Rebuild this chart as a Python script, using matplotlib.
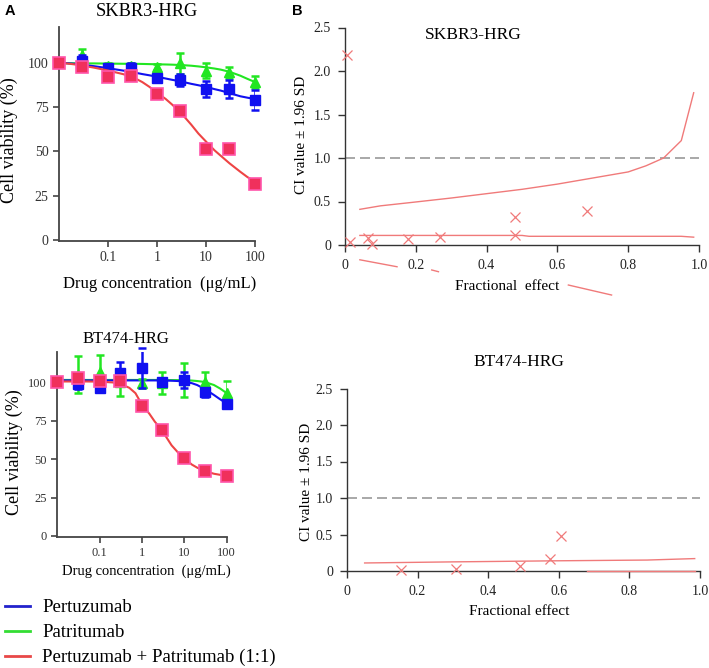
import numpy as np
import matplotlib.pyplot as plt
from matplotlib.lines import Line2D

plt.rcParams['font.family'] = ['Liberation Serif', 'DejaVu Serif']

# === Data: dose response (viability %) ===
conc = [0.01, 0.03, 0.1, 0.3, 1, 3, 10, 30, 100]

sk_per = [100, 101, 97, 97, 91.5, 90, 85, 85, 79]
sk_per_err = [0, 3, 2, 2.5, 1.5, 3.5, 4.5, 5, 5.5]
sk_pat = [100, 104, 98, 98, 97.5, 99.5, 95.5, 94.5, 89]
sk_pat_err = [0, 3.5, 1.5, 1.5, 1.5, 6, 4, 3, 3.5]
sk_combo = [100, 97.5, 92, 92.5, 82, 72.5, 51.5, 51.5, 31.5]

bt_per = [100, 99, 96.5, 106, 109.5, 100.5, 101.5, 93.5, 86]
bt_per_err = [0, 3.5, 2, 7, 13, 2.5, 5, 3, 2]
bt_pat = [100, 105, 107, 100, 99.5, 99.5, 101.5, 100.5, 93]
bt_pat_err = [0, 12, 11, 9, 3, 7, 11, 6.5, 8]
bt_combo = [100, 102.8, 100.7, 100.7, 84.4, 69.3, 50.9, 42.2, 39]

# fitted curves
fit_conc = [0.01, 0.02, 0.03, 0.05, 0.1, 0.2, 0.3, 0.5, 0.7, 1, 1.5, 2, 3,
            5, 7, 10, 15, 20, 30, 50, 70, 100]
sk_per_fit = [100, 99.3, 98.7, 98, 96.8, 95.5, 94.7, 93.5, 92.8, 92, 91, 90.3,
              89.4, 88, 87.2, 86.3, 85, 84.2, 82.8, 81, 80.2, 79.4]
sk_pat_fit = [99.6, 99.6, 99.5, 99.5, 99.4, 99.3, 99.3, 99.2, 99.1, 99, 98.9,
              98.8, 98.6, 98.2, 97.8, 97.3, 96.6, 96, 94.8, 92.6, 90.8, 89]
sk_combo_fit = [100, 99, 98.2, 97.2, 95.5, 93.5, 92.2, 89, 86.3, 83, 79.5,
                76.5, 72, 65, 60, 55.5, 50.5, 47.5, 43.3, 38.5, 35.5, 33]
bt_per_fit = [101.3, 101.3, 101.3, 101.3, 101.3, 101.3, 101.3, 101.3, 101.3,
              101.3, 101.3, 101.3, 101.2, 101.1, 100.9, 100.5, 99.5, 98.3,
              95.8, 91.8, 89, 86.3]
bt_pat_fit = [101.6, 101.6, 101.6, 101.6, 101.6, 101.6, 101.6, 101.6, 101.6,
              101.6, 101.6, 101.6, 101.6, 101.5, 101.5, 101.4, 101.2, 100.9,
              100.3, 98.3, 96, 93]
bt_combo_fit = [100.6, 100.6, 100.6, 100.6, 100.5, 100, 99.2, 96.5, 93, 85.5,
                79.5, 74.5, 68.5, 59, 54.5, 50.5, 46.5, 44.5, 42.3, 40.5, 39.8,
                39.3]

# === Data: combination index ===
sk_fa = [0.005, 0.015, 0.065, 0.077, 0.178, 0.268, 0.48, 0.48, 0.683]
sk_ci = [2.18, 0.03, 0.08, 0.01, 0.065, 0.095, 0.11, 0.32, 0.39]
sk_up_fa = [0.042, 0.1, 0.19, 0.3, 0.4, 0.5, 0.6, 0.7, 0.8, 0.85, 0.9, 0.95, 0.985]
sk_up_ci = [0.41, 0.45, 0.49, 0.54, 0.59, 0.64, 0.70, 0.77, 0.84, 0.91, 1.0, 1.2, 1.75]
sk_lo_fa = [0.042, 0.5, 0.52, 0.95, 0.985]
sk_lo_ci = [0.11, 0.11, 0.10, 0.10, 0.09]
# lower bound below zero, only partly visible in the original
sk_neg_fa = [0.042, 0.147, np.nan, 0.245, 0.264, np.nan, 0.631, 0.753]
sk_neg_ci = [-0.17, -0.25, np.nan, -0.287, -0.307, np.nan, -0.46, -0.575]

bt_fa = [0.152, 0.308, 0.49, 0.575, 0.606]
bt_ci = [0.02, 0.03, 0.07, 0.16, 0.48]
bt_up_fa = [0.05, 0.3, 0.6, 0.85, 0.985]
bt_up_ci = [0.11, 0.125, 0.14, 0.15, 0.17]
bt_lo_fa = [0.68, 0.985]
bt_lo_ci = [0.0, 0.0]

BLUE = '#1010f0'
GREEN = '#22e622'
RED = '#ee4444'
CI_RED = '#f07a7a'
AX_COL = '#444444'

W, H = 709, 668
fig = plt.figure(figsize=(W / 100, H / 100), dpi=100)


def rect(x0, x1, y0, y1):
    # pixel box -> figure fraction
    return [x0 / W, 1 - y0 / H, (x1 - x0) / W, (y0 - y1) / H]


def dose_panel(ax, per, per_err, pat, pat_err, combo, per_fit, pat_fit,
               combo_fit, fs_tick):
    ax.plot(fit_conc, pat_fit, color=GREEN, lw=1.5, zorder=2)
    ax.plot(fit_conc, per_fit, color=BLUE, lw=1.5, zorder=2)
    ax.errorbar(conc[1:], pat[1:], yerr=pat_err[1:], fmt='^', color=GREEN,
                ms=6.5, elinewidth=1.8, capsize=3, capthick=1.8, zorder=3)
    ax.errorbar(conc[1:], per[1:], yerr=per_err[1:], fmt='s', color=BLUE,
                ms=6.5, elinewidth=1.8, capsize=3, capthick=1.8, zorder=4)
    ax.plot(fit_conc, combo_fit, color=RED, lw=1.5, zorder=5)
    ax.plot(conc, combo, 's', ms=8, mfc='#f0305c', mec='#ff55aa', mew=1.2,
            ls='none', zorder=6)
    ax.set_xscale('log')
    ax.set_xlim(0.01, 100)
    ax.set_ylim(-0.5, 120)
    ax.set_xticks([0.1, 1, 10, 100])
    ax.set_xticklabels(['0.1', '1', '10', '100'])
    ax.minorticks_off()
    ax.set_yticks([0, 25, 50, 75, 100])
    for s in ['top', 'right']:
        ax.spines[s].set_visible(False)
    for s in ['left', 'bottom']:
        ax.spines[s].set_color(AX_COL)
        ax.spines[s].set_linewidth(1.3)
    ax.tick_params(colors=AX_COL, labelcolor='#333333', labelsize=fs_tick,
                   length=4, width=1.2)
    for m in ax.lines:
        m.set_clip_on(False)


def ci_panel(ax, fa, ci, up_fa, up_ci, lo_fa, lo_ci):
    ax.plot([0, 1.0], [1.0, 1.0], color='#999999', lw=1.2, ls=(0, (6, 3)))
    ax.plot(up_fa, up_ci, color=CI_RED, lw=1.0)
    ax.plot(lo_fa, lo_ci, color=CI_RED, lw=1.0, clip_on=False, zorder=3)
    ax.plot(fa, ci, 'x', color=CI_RED, ms=7, mew=0.9, ls='none',
            clip_on=False, zorder=4)
    ax.set_xlim(0, 1.0)
    ax.set_ylim(0, 2.5)
    ax.set_xticks([0, 0.2, 0.4, 0.6, 0.8, 1.0])
    ax.set_xticklabels(['0', '0.2', '0.4', '0.6', '0.8', '1.0'])
    ax.set_yticks([0, 0.5, 1.0, 1.5, 2.0, 2.5])
    ax.set_yticklabels(['0', '0.5', '1.0', '1.5', '2.0', '2.5'])
    for s in ['top', 'right']:
        ax.spines[s].set_visible(False)
    for s in ['left', 'bottom']:
        ax.spines[s].set_color('#333333')
        ax.spines[s].set_linewidth(1.0)
    ax.tick_params(colors='#333333', labelcolor='#222222', labelsize=10,
                   length=5, width=1.0, pad=5)


# --- A, SKBR3 ---
ax1 = fig.add_axes(rect(59, 255, 241, 27))
dose_panel(ax1, sk_per, sk_per_err, sk_pat, sk_pat_err, sk_combo,
           sk_per_fit, sk_pat_fit, sk_combo_fit, 10)
ax1.set_ylabel('Cell viability (%)', fontsize=13)
ax1.yaxis.set_label_coords(-0.21, 0.47)
ax1.set_xlabel('Drug concentration  (μg/mL)', fontsize=12)
ax1.xaxis.set_label_coords(0.515, -0.165)
ax1.text(0.449, 1.05, 'SKBR3-HRG', transform=ax1.transAxes, ha='center',
         va='baseline', fontsize=13.2)

# --- A, BT474 ---
ax2 = fig.add_axes(rect(57.3, 226.7, 536.7, 351.7))
dose_panel(ax2, bt_per, bt_per_err, bt_pat, bt_pat_err, bt_combo,
           bt_per_fit, bt_pat_fit, bt_combo_fit, 9)
ax2.set_ylabel('Cell viability (%)', fontsize=13)
ax2.yaxis.set_label_coords(-0.205, 0.455)
ax2.set_xlabel('Drug concentration  (μg/mL)', fontsize=10.5)
ax2.xaxis.set_label_coords(0.524, -0.153)
ax2.text(0.404, 1.049, 'BT474-HRG', transform=ax2.transAxes, ha='center',
         va='baseline', fontsize=12)

# --- B, SKBR3 ---
ax3 = fig.add_axes(rect(345, 699, 245, 27.5))
ci_panel(ax3, sk_fa, sk_ci, sk_up_fa, sk_up_ci, sk_lo_fa, sk_lo_ci)
ax3.plot(sk_neg_fa, sk_neg_ci, color=CI_RED, lw=1.0, clip_on=False)
ax3.set_ylabel('CI value ± 1.96 SD', fontsize=11)
ax3.yaxis.set_label_coords(-0.105, 0.506)
ax3.set_xlabel('Fractional  effect', fontsize=11)
ax3.xaxis.set_label_coords(0.459, -0.161)
ax3.text(0.362, 0.946, 'SKBR3-HRG', transform=ax3.transAxes, ha='center',
         va='baseline', fontsize=12.5)

# --- B, BT474 ---
ax4 = fig.add_axes(rect(347, 700, 571, 388.5))
ci_panel(ax4, bt_fa, bt_ci, bt_up_fa, bt_up_ci, bt_lo_fa, bt_lo_ci)
ax4.set_ylabel('CI value ± 1.96 SD', fontsize=11)
ax4.yaxis.set_label_coords(-0.096, 0.489)
ax4.set_xlabel('Fractional effect', fontsize=11)
ax4.xaxis.set_label_coords(0.489, -0.186)
ax4.text(0.486, 1.123, 'BT474-HRG', transform=ax4.transAxes, ha='center',
         va='baseline', fontsize=12.5)

# panel letters
fig.text(5 / W, 1 - 4 / H, 'A', ha='left', va='top', fontsize=10.5,
         fontweight='bold', family='Liberation Sans')
fig.text(292 / W, 1 - 4 / H, 'B', ha='left', va='top', fontsize=10.5,
         fontweight='bold', family='Liberation Sans')

# legend
handles = [Line2D([], [], color='#2222cc', lw=2),
           Line2D([], [], color='#33dd33', lw=2),
           Line2D([], [], color='#e84848', lw=2)]
labels = ['Pertuzumab', 'Patritumab', 'Pertuzumab + Patritumab (1:1)']
fig.legend(handles, labels, loc='upper left', bbox_to_anchor=(5 / W, 1 - 599 / H),
           frameon=False, fontsize=13.5, handlelength=1.35, handletextpad=0.65,
           labelspacing=0.42, borderpad=0, borderaxespad=0)

fig.savefig('out.png', dpi=100)
